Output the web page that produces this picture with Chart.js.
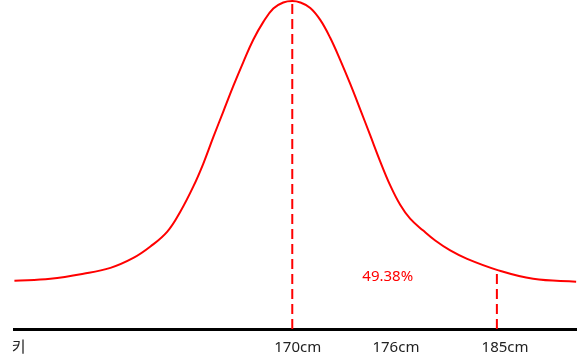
<!DOCTYPE html>
<html>
<head>
<meta charset="utf-8">
<script src="https://cdn.jsdelivr.net/npm/chart.js@4"></script>
<style>
  html, body { margin: 0; padding: 0; background: #fff; }
  #wrap { width: 578px; height: 362px; }
</style>
</head>
<body>
<div id="wrap"><canvas id="chart"></canvas></div>
<script>
// height (cm) along the curve, and the curve height
const heights = [149.63, 152.27, 154.69, 156.67, 158.35, 159.60, 160.84, 161.79, 162.75, 163.48,
                 164.21, 164.95, 165.68, 166.41, 167.14, 167.88, 168.61, 169.34, 170.00,
                 170.59, 171.32, 172.05, 172.78, 173.52, 174.25, 174.98, 175.71, 176.45, 177.18,
                 177.91, 178.64, 179.60, 180.48, 181.58, 182.82, 185.00, 187.66, 190.81];
const density = [0.97, 1.01, 1.11, 1.23, 1.43, 1.66, 1.96, 2.36, 2.87, 3.33,
                 3.86, 4.38, 4.89, 5.37, 5.82, 6.18, 6.45, 6.57, 6.60,
                 6.57, 6.46, 6.22, 5.86, 5.41, 4.93, 4.42, 3.90, 3.37, 2.89,
                 2.50, 2.22, 1.98, 1.78, 1.58, 1.41, 1.19, 1.01, 0.95];

// dashed markers
const markerX = [170, 185];
const markerTop = [6.60, 1.19];

// axis labels
const tickValues = [149.95, 170.4, 177.6, 185.6];
const tickLabels = ['키', '170cm', '176cm', '185cm'];

// percentage note
const noteText = '49.38%';
const noteX = 177.0;
const noteY = 1.05;

const RED = '#ff0000';
const FONT = "'Noto Sans', 'Noto Sans CJK KR', sans-serif";

const curve = heights.map((h, i) => ({ x: h, y: density[i] }));

const markerSets = markerX.map((x, i) => ({
    data: [{ x: x, y: 0 }, { x: x, y: markerTop[i] }],
    borderColor: RED,
    borderWidth: 2,
    borderDash: [10, 5],
    pointRadius: 0,
    tension: 0,
    clip: false
}));

const notePlugin = {
    id: 'note',
    afterDatasetsDraw(chart) {
        const ctx = chart.ctx;
        const px = chart.scales.x.getPixelForValue(noteX);
        const py = chart.scales.y.getPixelForValue(noteY);
        ctx.save();
        ctx.fillStyle = RED;
        ctx.font = '15px ' + FONT;
        ctx.textAlign = 'center';
        ctx.textBaseline = 'middle';
        ctx.fillText(noteText, px, py);
        ctx.restore();
    }
};

new Chart(document.getElementById('chart'), {
    type: 'line',
    data: {
        datasets: [{
            data: curve,
            borderColor: RED,
            borderWidth: 2,
            pointRadius: 0,
            tension: 0.4,
            clip: false
        }, ...markerSets]
    },
    options: {
        responsive: true,
        maintainAspectRatio: false,
        animation: false,
        layout: { padding: { top: 1, left: 14, right: 2, bottom: -4 } },
        plugins: {
            legend: { display: false },
            tooltip: { enabled: false }
        },
        scales: {
            x: {
                type: 'linear',
                min: 149.6,
                max: 190.8,
                afterBuildTicks(axis) {
                    axis.ticks = tickValues.map(v => ({ value: v }));
                },
                ticks: {
                    autoSkip: false,
                    maxRotation: 0,
                    padding: 11,
                    color: '#222',
                    font: { family: FONT, size: 15, lineHeight: 1 },
                    callback: (v, i) => tickLabels[i]
                },
                grid: { display: false, drawTicks: false },
                border: { color: '#000', width: 3 }
            },
            y: {
                display: false,
                min: 0,
                max: 6.6
            }
        }
    },
    plugins: [notePlugin]
});
</script>
</body>
</html>
